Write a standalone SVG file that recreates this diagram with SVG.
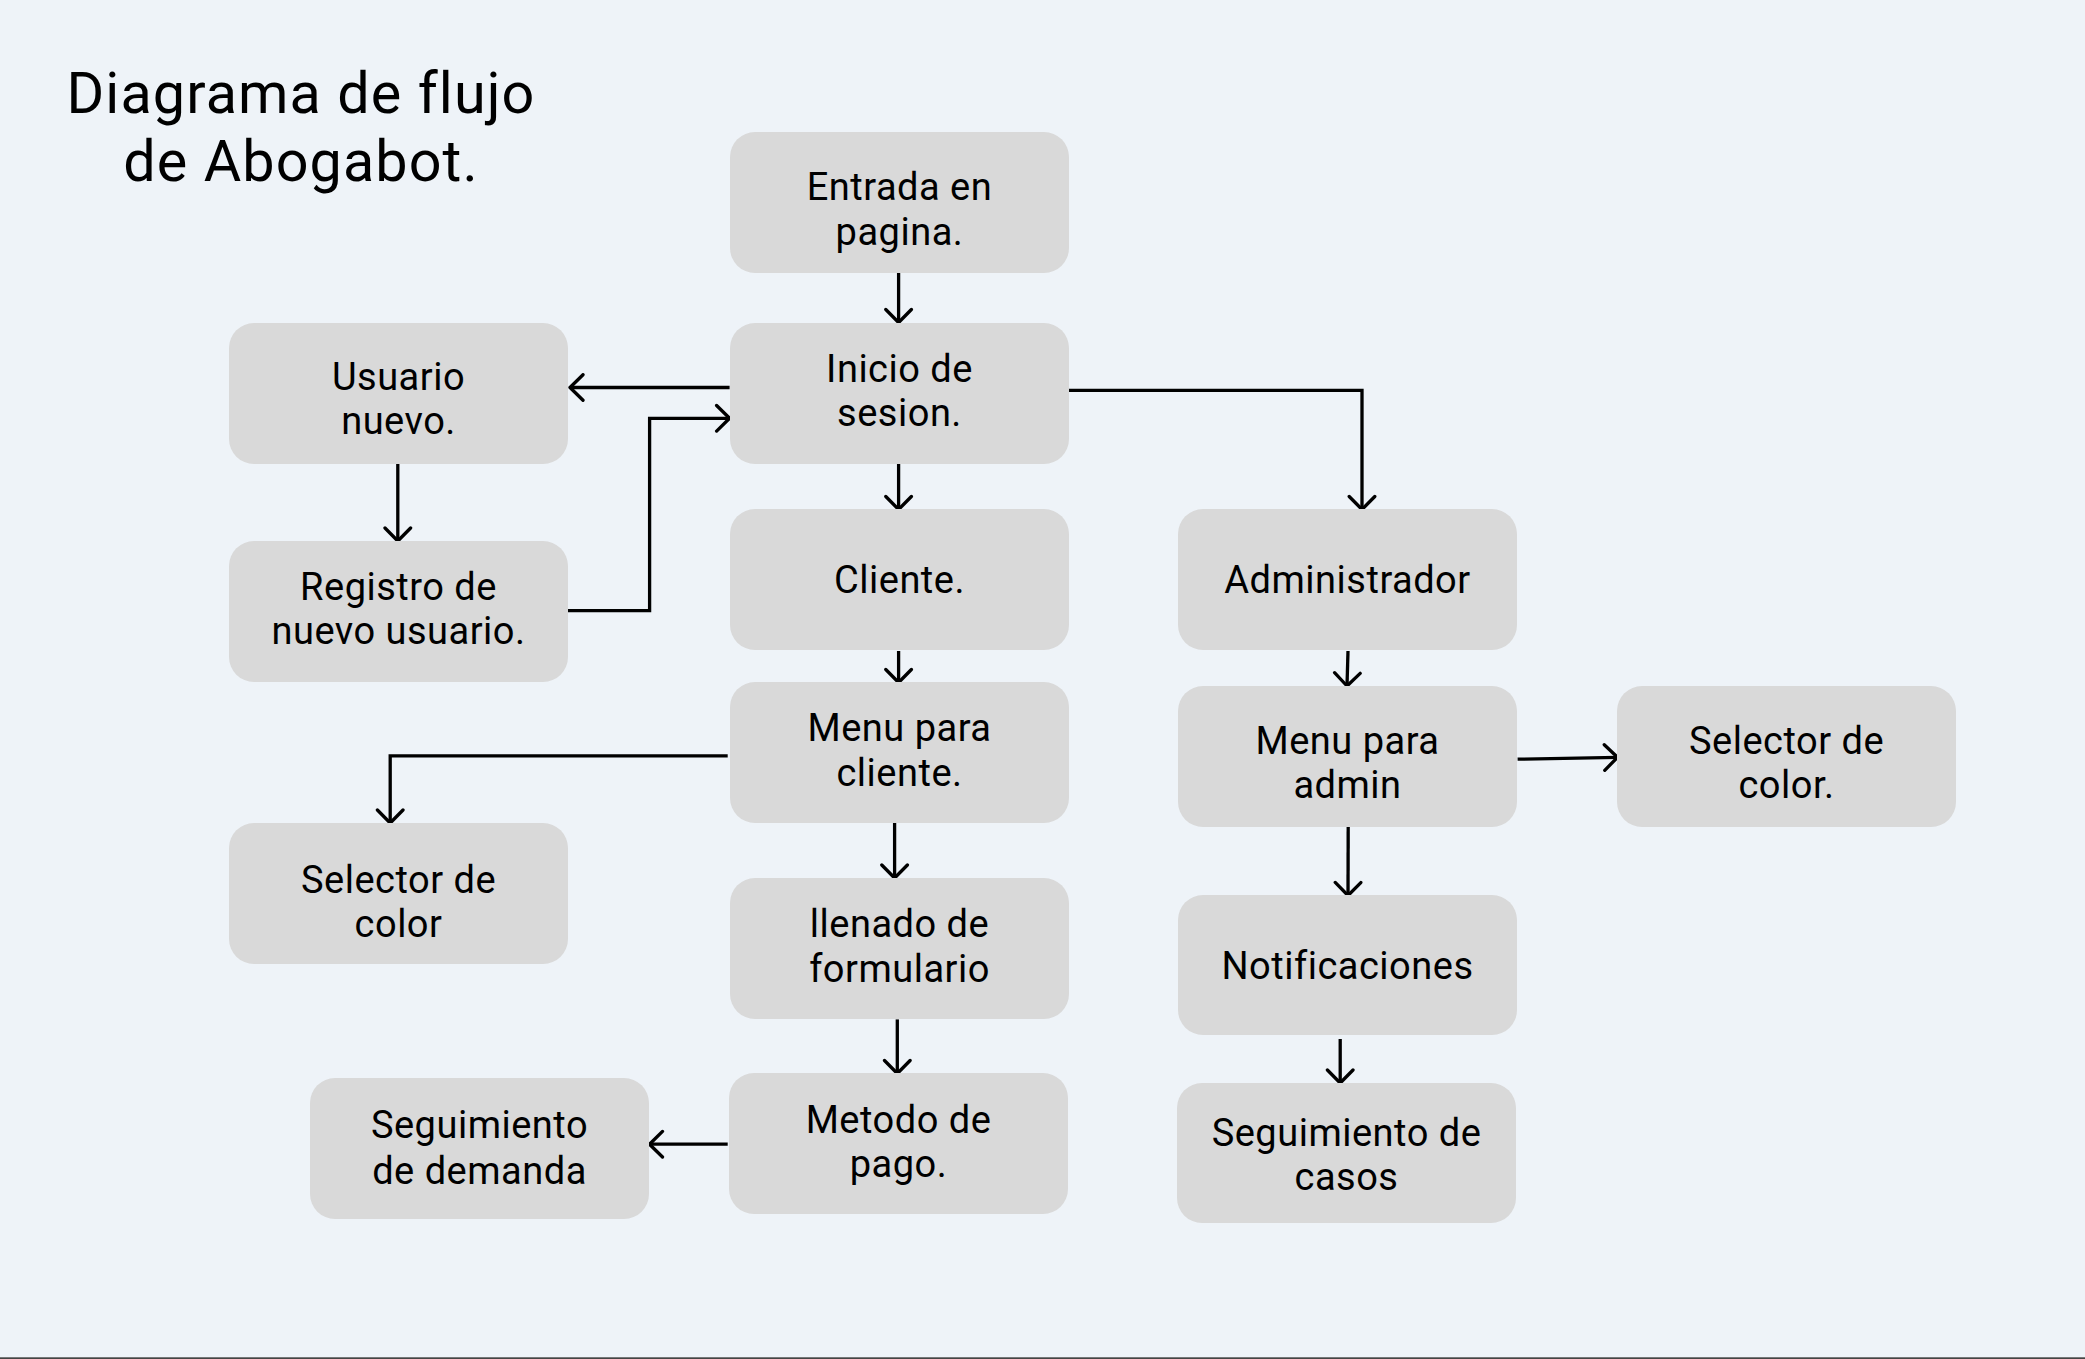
<svg xmlns="http://www.w3.org/2000/svg" width="2085" height="1359" viewBox="0 0 2085 1359">
<style>
.box{fill:#d9d9d9}
.t{font-family:Roboto,"Noto Sans","DejaVu Sans",sans-serif;font-size:38px;letter-spacing:0.5px;fill:#000;text-anchor:middle}
.title{font-family:Roboto,"Noto Sans","DejaVu Sans",sans-serif;font-size:57.5px;letter-spacing:1.1px;fill:#000;text-anchor:middle}
.c{fill:none;stroke:#000;stroke-width:3.3;marker-end:url(#arr)}
</style>
<defs>
<marker id="arr" markerWidth="18" markerHeight="30" viewBox="-16 -15 18 30" refX="0" refY="0" orient="auto" markerUnits="userSpaceOnUse">
<path d="M-13,-12.8 L0,0 L-13,12.8" fill="none" stroke="#000" stroke-width="3.3" stroke-linecap="round" stroke-linejoin="round"/>
</marker>
</defs>
<rect x="0" y="0" width="2085" height="1359" fill="#eef3f8"/>
<rect x="0" y="1357.3" width="2085" height="2" fill="#444"/>
<g id="title">
<text class="title" x="301" y="113">Diagrama de flujo<tspan x="301" y="181">de Abogabot.</tspan></text>
</g>
<g id="connectors">
<path class="c" d="M898.6,273 V322.5"/>
<path class="c" d="M729.6,387.5 H570"/>
<path class="c" d="M568,610.7 H649.6 V418.3 H729.6"/>
<path class="c" d="M397.8,464 V541"/>
<path class="c" d="M898.6,464 V509.5"/>
<path class="c" d="M1069,390.3 H1362 V509.5"/>
<path class="c" d="M898.6,651 V682.5"/>
<path class="c" d="M1348,651 L1347,686"/>
<path class="c" d="M1517.6,759.2 L1617.5,757.3"/>
<path class="c" d="M727.7,755.8 H390.2 V823"/>
<path class="c" d="M894.6,822 V878"/>
<path class="c" d="M1348.2,826 L1348,895.5"/>
<path class="c" d="M897.3,1019.4 V1073.5"/>
<path class="c" d="M727.7,1144.2 H649.5"/>
<path class="c" d="M1340.2,1039 V1083"/>
</g>
<g id="n-entrada"><rect class="box" x="730" y="132" width="339" height="141" rx="25"/><text class="t" x="899.5" y="199.5">Entrada en<tspan x="899.5" y="244.6">pagina.</tspan></text></g>
<g id="n-inicio"><rect class="box" x="730" y="323" width="339" height="141" rx="25"/><text class="t" x="899.5" y="381.7">Inicio de<tspan x="899.5" y="426.3">sesion.</tspan></text></g>
<g id="n-usuario"><rect class="box" x="229" y="323" width="339" height="141" rx="25"/><text class="t" x="398.5" y="389.7">Usuario<tspan x="398.5" y="434.4">nuevo.</tspan></text></g>
<g id="n-registro"><rect class="box" x="229" y="541" width="339" height="141" rx="25"/><text class="t" x="398.5" y="599.6">Registro de<tspan x="398.5" y="644.2">nuevo usuario.</tspan></text></g>
<g id="n-cliente"><rect class="box" x="730" y="509" width="339" height="141" rx="25"/><text class="t" x="899.5" y="592.9">Cliente.</text></g>
<g id="n-admin"><rect class="box" x="1178" y="509" width="339" height="141" rx="25"/><text class="t" x="1347.5" y="592.8">Administrador</text></g>
<g id="n-menu-cliente"><rect class="box" x="730" y="682" width="339" height="141" rx="25"/><text class="t" x="899.5" y="741.3">Menu para<tspan x="899.5" y="785.6">cliente.</tspan></text></g>
<g id="n-menu-admin"><rect class="box" x="1178" y="686" width="339" height="141" rx="25"/><text class="t" x="1347.5" y="754.3">Menu para<tspan x="1347.5" y="797.5">admin</tspan></text></g>
<g id="n-selector-admin"><rect class="box" x="1617" y="686" width="339" height="141" rx="25"/><text class="t" x="1786.5" y="754.3">Selector de<tspan x="1786.5" y="797.5">color.</tspan></text></g>
<g id="n-selector-cliente"><rect class="box" x="229" y="823" width="339" height="141" rx="25"/><text class="t" x="398.5" y="893.3">Selector de<tspan x="398.5" y="937.1">color</tspan></text></g>
<g id="n-llenado"><rect class="box" x="730" y="878" width="339" height="141" rx="25"/><text class="t" x="899.5" y="937.1">llenado de<tspan x="899.5" y="982.3">formulario</tspan></text></g>
<g id="n-notificaciones"><rect class="box" x="1178" y="895" width="339" height="140" rx="25"/><text class="t" x="1347.5" y="978.7">Notificaciones</text></g>
<g id="n-metodo"><rect class="box" x="729" y="1073" width="339" height="141" rx="25"/><text class="t" x="898.5" y="1132.5">Metodo de<tspan x="898.5" y="1176.8">pago.</tspan></text></g>
<g id="n-seg-demanda"><rect class="box" x="310" y="1078" width="339" height="141" rx="25"/><text class="t" x="479.5" y="1138.3">Seguimiento<tspan x="479.5" y="1183.5">de demanda</tspan></text></g>
<g id="n-seg-casos"><rect class="box" x="1177" y="1083" width="339" height="140" rx="25"/><text class="t" x="1346.5" y="1146">Seguimiento de<tspan x="1346.5" y="1190.3">casos</tspan></text></g>
</svg>
